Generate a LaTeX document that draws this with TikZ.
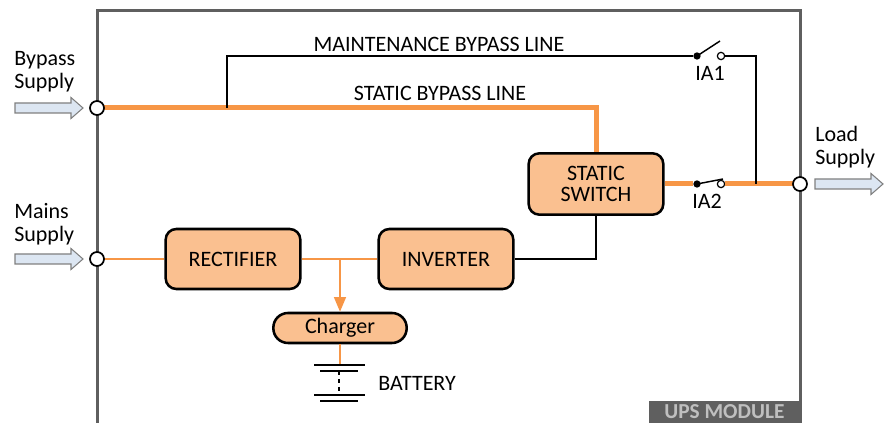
\documentclass[tikz,border=0pt]{standalone}
\usepackage{fontspec}
\setmainfont{Carlito}
\usetikzlibrary{arrows.meta}
\definecolor{upsorange}{HTML}{F79646}
\definecolor{upsfill}{HTML}{FAC090}
\definecolor{upsgray}{HTML}{5F5F5F}
\definecolor{labelgray}{HTML}{BFBFBF}
\definecolor{arrowblue}{HTML}{DCE6F2}
\tikzstyle{ups_block}=[rectangle,draw,line width=1.9pt,rounded corners=8pt,fill=upsfill,minimum width=101pt,minimum height=45pt,inner sep=0pt,align=center]
\tikzstyle{terminal}=[circle,draw,line width=1.3pt,fill=white,minimum size=10.5pt,inner sep=0pt]
\tikzstyle{contact}=[circle,draw,line width=0.9pt,fill=white,minimum size=5.5pt,inner sep=0pt]
\tikzstyle{pivot}=[circle,fill=black,minimum size=5.5pt,inner sep=0pt]
\tikzstyle{power_line}=[upsorange,line width=3.75pt]
\tikzstyle{feed_line}=[upsorange,line width=1.1pt]
\tikzstyle{ctrl_line}=[black,line width=1.1pt]
\tikzstyle{supply_arrow}=[draw=gray,fill=arrowblue,line width=0.8pt]
\newcommand{\feedarrow}[2]{\draw[supply_arrow] (#1,#2) ++(0,-5) -- ++(56,0) -- ++(0,-5.5) -- ++(12,10.5) -- ++(-12,10.5) -- ++(0,-5.5) -- ++(-56,0) -- cycle;}

\begin{document}
\begin{tikzpicture}[x=0.75pt,y=-0.75pt,font=\fontsize{16.5}{17.5}\selectfont]
\useasboundingbox (0,0) rectangle (885,423);
% module frame and tag
\draw[upsgray,line width=2.25pt] (97,423) -- (97,11) -- (800,11) -- (800,423);
\node[anchor=south east,fill=upsgray,text=labelgray,minimum width=113pt,minimum height=16pt,inner sep=0pt,font=\fontsize{16}{16}\selectfont\bfseries] (tag) at (800,423) {UPS MODULE};

% supplies
\feedarrow{15}{108}
\feedarrow{15}{259}
\feedarrow{815}{184}
\node[anchor=west,align=left,inner sep=0pt] (bypasstxt) at (14,72) {Bypass\\Supply};
\node[anchor=west,align=left,inner sep=0pt] (mainstxt) at (14,224) {Mains\\Supply};
\node[anchor=west,align=left,inner sep=0pt] (loadtxt) at (815,147) {Load\\Supply};

% blocks
\node[ups_block] (rectifier) at (233,259) {RECTIFIER};
\node[ups_block] (inverter) at (446,259) {INVERTER};
\node[ups_block,minimum height=46pt] (sswitch) at (596,184) {STATIC\\[-2pt]SWITCH};
\node[ups_block,minimum width=100pt,minimum height=22.5pt,rounded corners=11pt] (charger) at (340,328) {Charger};

% switches
\node[pivot] (ia1pivot) at (697,56) {};
\node[contact] (ia1contact) at (721,56) {};
\node[pivot] (ia2pivot) at (697,184) {};
\node[contact] (ia2contact) at (721,184) {};
\node (ia1txt) at (710,73) {IA1};
\node (ia2txt) at (707,201) {IA2};

\coordinate (mbtap) at (227,108);
\coordinate (mbjoin) at (756,184);
\coordinate (chtap) at (340,259);
\coordinate (battop) at (340,365);

% power paths
\draw[power_line] (97,108) -| (sswitch.north);
\draw[power_line] (sswitch.east) -- (ia2pivot);
\draw[power_line] (ia2contact) -- (800,184);
\draw[ctrl_line] (mbtap) |- (ia1pivot);
\draw[ctrl_line] (ia1contact) -| (mbjoin);
\draw[ctrl_line] (ia1pivot.center) -- (720,41);
\draw[ctrl_line] (ia2pivot.center) -- (723,179);
\draw[ctrl_line] (inverter.east) -| (sswitch.south);
\draw[feed_line] (97,259) -- (rectifier);
\draw[feed_line] (rectifier) -- (inverter);
\draw[feed_line,-{Triangle[length=11pt,width=9pt]}] (chtap) -- (charger.north);
\draw[feed_line] (charger.south) -- (battop);

% terminals
\node[terminal] (bypassin) at (97,108) {};
\node[terminal] (mainsin) at (97,259) {};
\node[terminal] (loadout) at (800,184) {};

% battery
\draw[line width=1.4pt] (314,365) -- (365,365) (320,371) -- (358,371);
\draw[line width=1.4pt] (314,395) -- (365,395) (320,401) -- (358,401);
\draw[line width=1.1pt,dashed] (339,371) -- (339,395);
\node[anchor=west,inner sep=0pt] (batttxt) at (378,383) {BATTERY};

% line labels
\node (mbtxt) at (439,44) {MAINTENANCE BYPASS LINE};
\node (sbtxt) at (440,93) {STATIC BYPASS LINE};
\end{tikzpicture}
\end{document}
